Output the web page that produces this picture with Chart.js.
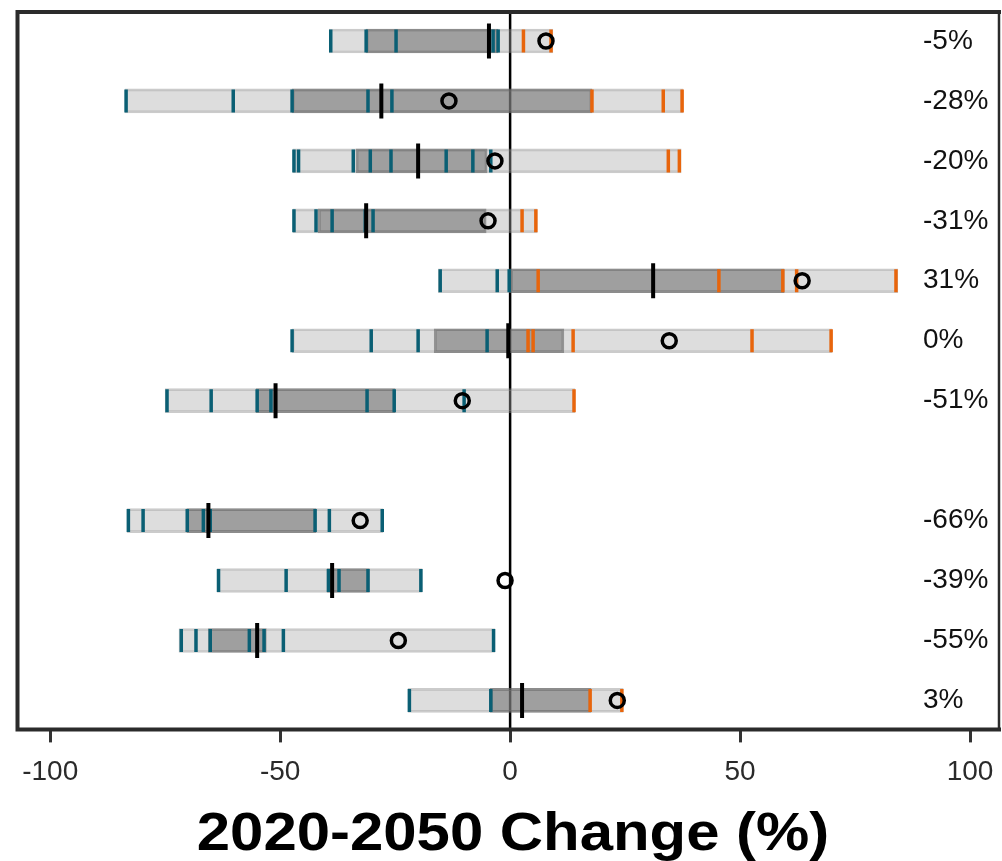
<!DOCTYPE html>
<html lang="en">
<head>
    <meta charset="UTF-8">
    <title>2020-2050 Change</title>
    <script src="https://cdn.jsdelivr.net/npm/chart.js"></script>
    <style>
        html, body {
            margin: 0;
            padding: 0;
            background: #fff;
        }
        #wrap {
            width: 1002px;
            height: 861px;
        }
    </style>
</head>
<body>
    <div id="wrap">
        <canvas id="changeChart" width="1002" height="861"></canvas>
    </div>
    <script>
        // rows from top to bottom, one empty slot between the two groups
        const rowLabels = ['-5%', '-28%', '-20%', '-31%', '31%', '0%', '-51%', '', '-66%', '-39%', '-55%', '3%'];
        const rangeLow  = [-39.3, -83.7, -47.2, -47.2, -15.6, -47.4, -75.0, null, -83.3, -63.7, -72.0, -22.2];
        const rangeHigh = [9.3, 37.6, 37.2, 5.9, 84.3, 70.0, 14.1, null, -27.6, -19.1, -3.3, 24.6];
        const iqrLow    = [-31.3, -47.4, -33.5, -41.7, 0.0, -16.5, -55.2, null, -70.3, -39.8, -65.6, -4.3];
        const iqrHigh   = [-2.6, 17.8, -5.0, -5.2, 59.6, 11.7, -25.0, null, -42.2, -30.6, -53.0, 17.6];
        const medians   = [-4.6, -28.0, -20.0, -31.3, 31.1, -0.4, -51.0, null, -65.6, -38.7, -55.0, 2.6];
        const observed  = [7.8, -13.3, -3.3, -4.8, 63.5, 34.6, -10.4, null, -32.6, -1.1, -24.3, 23.3];
        const modelValues = [
            [-39.0, -31.3, -24.8, -3.7, -2.6, 2.9, 8.9],
            [-83.5, -60.2, -47.4, -30.9, -25.7, 17.8, 33.3, 37.4],
            [-47.0, -46.0, -34.1, -30.4, -25.9, -13.9, -8.1, -4.2, 34.4, 36.8],
            [-47.0, -42.2, -38.7, -31.5, -29.8, 2.6, 5.6],
            [-15.2, -2.8, -0.2, 6.1, 45.4, 59.3, 62.3, 83.9],
            [-47.4, -30.2, -20.0, -5.0, 3.9, 5.0, 13.7, 52.6, 69.8],
            [-74.6, -65.0, -55.0, -52.0, -31.1, -25.2, -10.0, 13.9],
            [],
            [-83.0, -79.8, -70.2, -66.7, -65.2, -42.4, -39.3, -27.8],
            [-63.4, -48.7, -39.5, -37.2, -30.9, -19.4],
            [-71.5, -68.3, -65.2, -56.7, -53.5, -49.3, -3.6],
            [-21.9, -4.2, 17.4, 24.3]
        ];
        const xTicks = [-100, -50, 0, 50, 100];
        const xTitle = '2020-2050 Change (%)';

        const TEAL = '#0a5f74';
        const ORANGE = '#e8650c';

        function bars(lo, hi) {
            const out = [];
            lo.forEach((v, i) => {
                if (v !== null) out.push({ x: [v, hi[i]], y: i });
            });
            return out;
        }
        function points(vals) {
            const out = [];
            vals.forEach((v, i) => {
                if (v !== null) out.push({ x: v, y: i });
            });
            return out;
        }
        function modelPoints(keep) {
            const out = [];
            modelValues.forEach((row, i) => {
                row.filter(keep).forEach(v => out.push({ x: v, y: i }));
            });
            return out;
        }

        // zero line under the bars
        const zeroLine = {
            id: 'zeroLine',
            beforeDatasetsDraw(chart) {
                const { ctx, chartArea, scales } = chart;
                const x0 = scales.x.getPixelForValue(0);
                ctx.save();
                ctx.strokeStyle = '#000';
                ctx.lineWidth = 2.5;
                ctx.beginPath();
                ctx.moveTo(x0, chartArea.top);
                ctx.lineTo(x0, chartArea.bottom);
                ctx.stroke();
                ctx.restore();
            }
        };

        // frame, right hand labels and axis title
        const decorations = {
            id: 'decorations',
            afterDraw(chart) {
                const { ctx, chartArea, scales } = chart;
                ctx.save();
                ctx.strokeStyle = '#2b2b2b';
                ctx.lineCap = 'square';
                ctx.lineWidth = 4;
                ctx.beginPath();
                ctx.moveTo(chartArea.left, chartArea.top + 1);
                ctx.lineTo(chartArea.right, chartArea.top + 1);
                ctx.moveTo(chartArea.left - 0.5, chartArea.top + 1);
                ctx.lineTo(chartArea.left - 0.5, chartArea.bottom - 1);
                ctx.lineTo(chartArea.right, chartArea.bottom - 1);
                ctx.stroke();
                ctx.lineWidth = 2.5;
                ctx.beginPath();
                ctx.moveTo(chartArea.right, chartArea.top + 1);
                ctx.lineTo(chartArea.right, chartArea.bottom - 1);
                ctx.stroke();

                ctx.fillStyle = '#111';
                ctx.font = '28px "Liberation Sans", Arial, sans-serif';
                ctx.textAlign = 'left';
                ctx.textBaseline = 'middle';
                rowLabels.forEach((label, i) => {
                    ctx.fillText(label, 923, scales.y.getPixelForValue(i));
                });

                ctx.fillStyle = '#000';
                ctx.font = 'bold 53px "Liberation Sans", Arial, sans-serif';
                ctx.textAlign = 'center';
                ctx.textBaseline = 'alphabetic';
                ctx.translate(513, 850);
                ctx.scale(1.13, 1);
                ctx.fillText(xTitle, 0, 0);
                ctx.restore();
            }
        };

        const ctx = document.getElementById('changeChart').getContext('2d');
        new Chart(ctx, {
            type: 'bar',
            data: {
                datasets: [
                    {
                        label: 'range',
                        data: bars(rangeLow, rangeHigh),
                        backgroundColor: 'rgba(170, 170, 170, 0.4)',
                        borderColor: 'rgba(140, 140, 140, 0.45)',
                        borderWidth: 2,
                        borderSkipped: false,
                        barThickness: 24,
                        grouped: false,
                        order: 5
                    },
                    {
                        label: 'iqr',
                        data: bars(iqrLow, iqrHigh),
                        backgroundColor: 'rgba(110, 110, 110, 0.55)',
                        borderColor: 'rgba(90, 90, 90, 0.55)',
                        borderWidth: 2,
                        borderSkipped: false,
                        barThickness: 24,
                        grouped: false,
                        order: 4
                    },
                    {
                        type: 'scatter',
                        label: 'models below zero',
                        data: modelPoints(v => v < 0),
                        pointStyle: 'line',
                        rotation: 90,
                        radius: 11.5,
                        borderWidth: 3.5,
                        borderColor: TEAL,
                        order: 3
                    },
                    {
                        type: 'scatter',
                        label: 'models above zero',
                        data: modelPoints(v => v >= 0),
                        pointStyle: 'line',
                        rotation: 90,
                        radius: 11.5,
                        borderWidth: 3.5,
                        borderColor: ORANGE,
                        order: 3
                    },
                    {
                        type: 'scatter',
                        label: 'median',
                        data: points(medians),
                        pointStyle: 'line',
                        rotation: 90,
                        radius: 17.5,
                        borderWidth: 4,
                        borderColor: '#000',
                        order: 2
                    },
                    {
                        type: 'scatter',
                        label: 'observed',
                        data: points(observed),
                        pointStyle: 'circle',
                        radius: 7,
                        borderWidth: 3.5,
                        borderColor: '#000',
                        backgroundColor: 'rgba(0, 0, 0, 0)',
                        order: 1
                    }
                ]
            },
            options: {
                indexAxis: 'y',
                responsive: false,
                animation: false,
                events: [],
                layout: {
                    autoPadding: false,
                    padding: { left: 18, right: 3, top: 11, bottom: 59 }
                },
                plugins: {
                    legend: { display: false },
                    tooltip: { enabled: false }
                },
                scales: {
                    x: {
                        type: 'linear',
                        min: -107,
                        max: 106.3,
                        afterBuildTicks: axis => {
                            axis.ticks = xTicks.map(v => ({ value: v }));
                        },
                        afterFit: axis => {
                            axis.paddingLeft = 0;
                            axis.paddingRight = 0;
                        },
                        border: { display: false },
                        grid: {
                            drawOnChartArea: false,
                            drawTicks: true,
                            tickLength: 12,
                            tickWidth: 3,
                            tickColor: '#333'
                        },
                        ticks: {
                            padding: 13,
                            color: '#2a2a2a',
                            font: { family: '"Liberation Sans", Arial, sans-serif', size: 28 },
                            maxRotation: 0
                        }
                    },
                    y: {
                        type: 'linear',
                        min: -0.5,
                        max: rowLabels.length - 0.5,
                        reverse: true,
                        offset: false,
                        display: false
                    }
                }
            },
            plugins: [zeroLine, decorations]
        });
    </script>
</body>
</html>
